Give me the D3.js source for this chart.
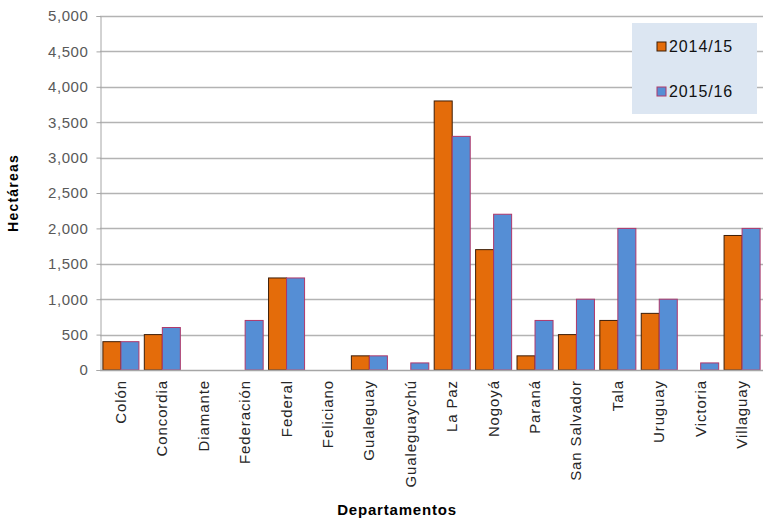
<!DOCTYPE html>
<html>
<head>
<meta charset="utf-8">
<script src="https://cdn.jsdelivr.net/npm/d3@7"></script>
<style>
  body { margin: 0; background: #fff; }
  text { font-family: "Liberation Sans", Arial, sans-serif; }
</style>
</head>
<body>
<script>
// Data
const departamentos = ["Colón", "Concordia", "Diamante", "Federación", "Federal", "Feliciano",
  "Gualeguay", "Gualeguaychú", "La Paz", "Nogoyá", "Paraná", "San Salvador", "Tala",
  "Uruguay", "Victoria", "Villaguay"];
const campania1415 = [400, 500, 0, 0, 1300, 0, 200, 0, 3800, 1700, 200, 500, 700, 800, 0, 1900];
const campania1516 = [400, 600, 0, 700, 1300, 0, 200, 100, 3300, 2200, 700, 1000, 2000, 1000, 100, 2000];
const seriesNames = ["2014/15", "2015/16"];
const yTicks = [0, 500, 1000, 1500, 2000, 2500, 3000, 3500, 4000, 4500, 5000];

const width = 779, height = 528;
const margin = { left: 100, right: 16, top: 16, bottom: 158 };

const fills = ["#E46C0A", "#558ED5"];
const strokes = ["#3d1e08", "#b0386a"];

const svg = d3.select("body").append("svg")
  .attr("width", width)
  .attr("height", height);

const x = d3.scaleBand()
  .domain(departamentos)
  .range([margin.left, width - margin.right])
  .paddingInner(0.13)
  .paddingOuter(0.07);

const xSub = d3.scaleBand()
  .domain(seriesNames)
  .range([0, x.bandwidth()]);

const y = d3.scaleLinear()
  .domain([0, 5000])
  .range([height - margin.bottom, margin.top]);

// Gridlines
svg.append("g")
  .selectAll("line")
  .data(yTicks.slice(1))
  .enter().append("line")
  .attr("x1", margin.left)
  .attr("x2", width - margin.right)
  .attr("y1", d => Math.round(y(d)) + 0.5)
  .attr("y2", d => Math.round(y(d)) + 0.5)
  .attr("stroke", "#b3b3b3")
  .attr("stroke-width", 1.5);

// Y axis
const yAxis = svg.append("g")
  .attr("transform", `translate(${margin.left + 0.5},0)`)
  .call(d3.axisLeft(y).tickValues(yTicks).tickSize(4).tickPadding(8)
    .tickFormat(d3.format(",")));
yAxis.select(".domain").attr("stroke", "#a6a6a6");
yAxis.selectAll(".tick line").attr("stroke", "#a6a6a6");
yAxis.selectAll(".tick text")
  .attr("fill", "#595959")
  .style("font-size", "15px")
  .style("letter-spacing", "0.6px");

// Bars
const rows = departamentos.map((d, i) => ({ name: d, values: [campania1415[i], campania1516[i]] }));

const groups = svg.append("g")
  .selectAll("g")
  .data(rows)
  .enter().append("g")
  .attr("transform", d => `translate(${x(d.name)},0)`);

groups.selectAll("rect")
  .data(d => d.values.map((v, k) => ({ key: seriesNames[k], k: k, value: v })))
  .enter().append("rect")
  .filter(d => d.value > 0)
  .attr("x", d => xSub(d.key))
  .attr("y", d => y(d.value))
  .attr("width", xSub.bandwidth())
  .attr("height", d => y(0) - y(d.value))
  .attr("fill", d => fills[d.k])
  .attr("stroke", d => strokes[d.k])
  .attr("stroke-width", 1);

// X axis baseline
svg.append("line")
  .attr("x1", margin.left)
  .attr("x2", width - margin.right)
  .attr("y1", y(0) + 0.5)
  .attr("y2", y(0) + 0.5)
  .attr("stroke", "#a6a6a6")
  .attr("stroke-width", 1.5);

// X labels (rotated)
svg.append("g")
  .selectAll("text")
  .data(departamentos)
  .enter().append("text")
  .attr("transform", d => `translate(${x(d) + x.bandwidth() / 2 + 5},${y(0) + 10}) rotate(-90)`)
  .attr("text-anchor", "end")
  .attr("fill", "#262626")
  .style("font-size", "15px")
  .style("letter-spacing", "0.9px")
  .text(d => d);

// Axis titles
svg.append("text")
  .attr("transform", `translate(18,${(margin.top + y(0)) / 2}) rotate(-90)`)
  .attr("text-anchor", "middle")
  .style("font-size", "14px")
  .style("font-weight", "bold")
  .style("letter-spacing", "1.2px")
  .text("Hectáreas");

svg.append("text")
  .attr("x", 397)
  .attr("y", 515)
  .attr("text-anchor", "middle")
  .style("font-size", "15px")
  .style("font-weight", "bold")
  .style("letter-spacing", "0.8px")
  .text("Departamentos");

// Legend
const legend = svg.append("g").attr("transform", "translate(632,23)");
legend.append("rect")
  .attr("width", 125)
  .attr("height", 91)
  .attr("fill", "#dce6f2");

const legendItems = legend.selectAll(".legend-item")
  .data(seriesNames)
  .enter().append("g")
  .attr("class", "legend-item")
  .attr("transform", (d, i) => `translate(25,${19 + i * 45})`);

legendItems.append("rect")
  .attr("width", 9)
  .attr("height", 9)
  .attr("fill", (d, i) => fills[i])
  .attr("stroke", (d, i) => strokes[i]);

legendItems.append("text")
  .attr("x", 12)
  .attr("y", 10)
  .style("font-size", "16px")
  .style("letter-spacing", "0.9px")
  .attr("fill", "#111")
  .text(d => d);
</script>
</body>
</html>
